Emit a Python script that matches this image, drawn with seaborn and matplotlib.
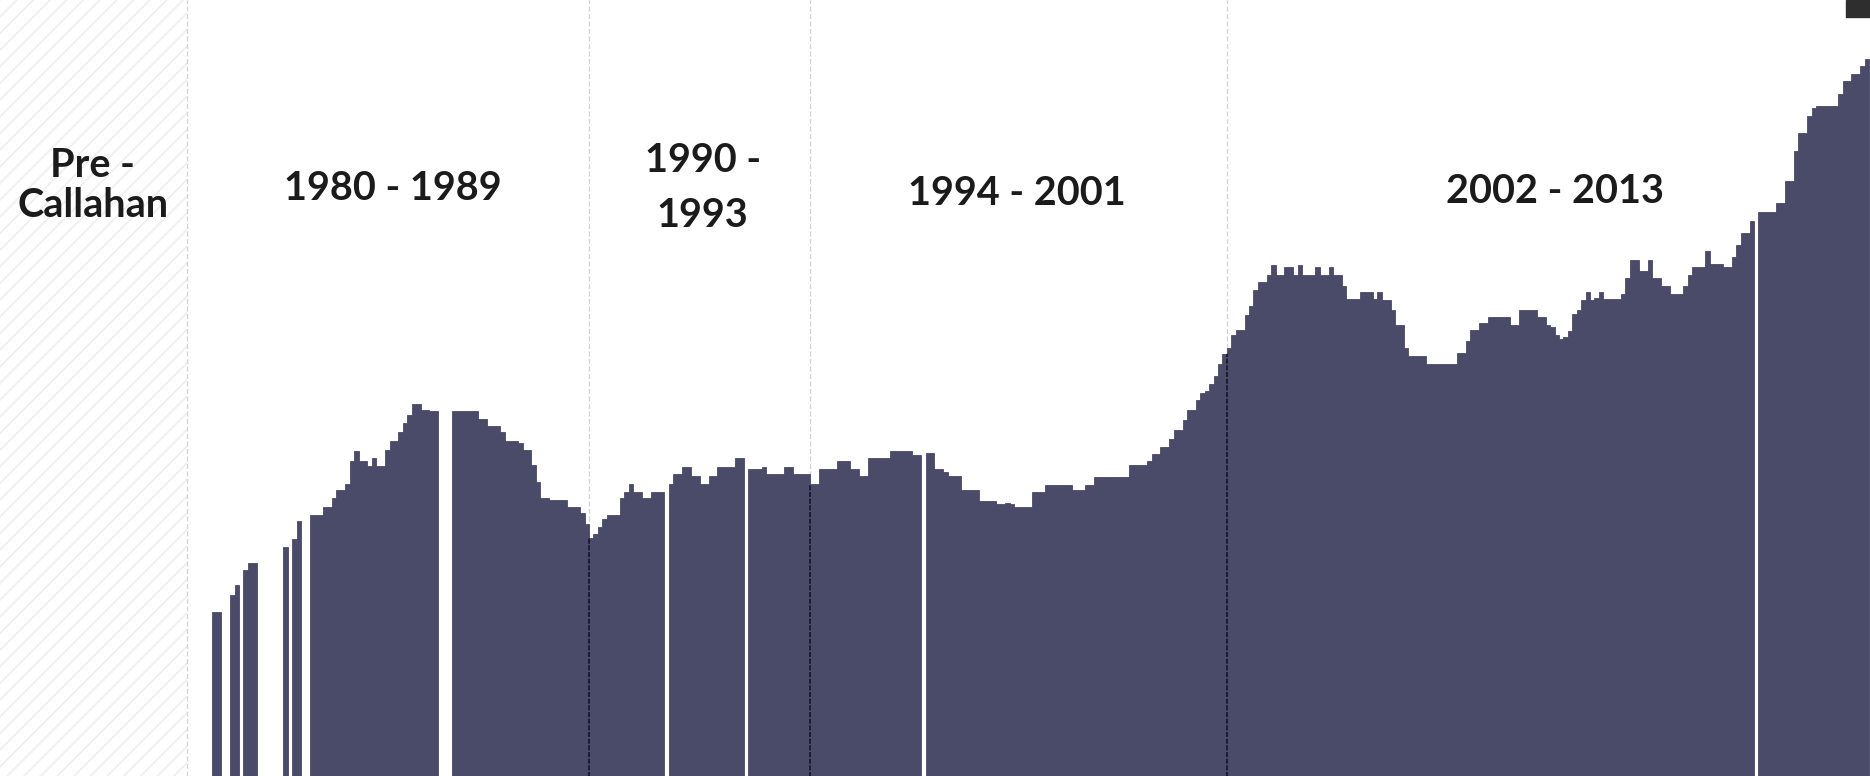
import numpy as np
import pandas as pd
import matplotlib
matplotlib.use('Agg')
import matplotlib.pyplot as plt
import seaborn as sns
from matplotlib.patches import Rectangle
from matplotlib.transforms import blended_transform_factory

nan = np.nan

# Monthly shelter census (thousands). Month index 0 = Jan 1990, gaps = missing months
koch_start = -85
koch = [12.5, 12.5, nan, nan, 13.7, 14.5, nan, 15.6, 16.1, 16.1,
        nan, nan, nan, nan, nan, nan, 17.3, nan, 17.9, 19.2,
        nan, nan, 19.7, 19.7, 19.7, 20.3, 20.3, 20.9, 21.5, 21.5,
        22.0, 23.7, 24.4, 23.7, 23.7, 23.3, 23.9, 23.3, 23.3, 24.5,
        25.2, 25.2, 25.8, 26.5, 27.1, 27.9, 27.9, 27.5, 27.5, 27.4,
        27.4, nan, nan, nan, 27.4, 27.4, 27.4, 27.4, 27.4, 27.4,
        26.8, 26.8, 26.3, 26.3, 26.3, 25.8, 25.2, 25.2, 25.2, 25.0,
        24.5, 24.5, 23.4, 22.1, 20.9, 20.9, 20.8, 20.8, 20.8, 20.8,
        20.3, 20.3, 20.3, 19.8, 19.0]

dinkins_start = 0
dinkins = [18.0, 18.3, 18.8, 19.4, 19.7, 19.7, 19.7, 20.9, 21.4, 22.0,
           21.4, 21.4, 20.9, 20.9, 21.4, 21.4, 21.4, nan, 22.0, 22.7,
           22.7, 23.2, 23.2, 22.6, 22.6, 22.0, 22.0, 22.6, 22.6, 23.2,
           23.2, 23.2, 23.2, 23.9, 23.9, nan, 23.1, 23.1, 23.1, 23.2,
           22.7, 22.7, 22.7, 22.7, 23.2, 23.2, 22.7, 22.7, 22.7, 22.7]

giuliani_start = 50
giuliani = [22.0, 22.0, 23.1, 23.1, 23.1, 23.1, 23.7, 23.7, 23.7, 23.1,
            23.1, 22.6, 22.6, 23.9, 23.9, 23.9, 23.9, 23.9, 24.4, 24.4,
            24.4, 24.4, 24.4, 24.1, 24.1, nan, 24.3, 24.3, 23.1, 23.1,
            22.9, 22.6, 22.6, 22.6, 21.5, 21.5, 21.5, 21.5, 20.7, 20.7,
            20.7, 20.7, 20.5, 20.5, 20.6, 20.5, 20.3, 20.3, 20.3, 20.3,
            21.4, 21.4, 21.4, 21.9, 21.9, 21.9, 21.9, 21.9, 21.9, 21.5,
            21.5, 21.5, 21.9, 21.9, 22.5, 22.5, 22.5, 22.5, 22.5, 22.5,
            22.5, 22.5, 23.4, 23.4, 23.4, 23.4, 23.7, 24.2, 24.2, 24.7,
            24.7, 25.3, 26.0, 26.0, 26.7, 27.5, 27.5, 28.2, 28.7, 28.9,
            29.4, 30.0, 30.9, 31.6]

bloomberg_start = 144
bloomberg = [32.1, 33.0, 33.4, 33.4, 34.5, 35.2, 36.4, 37.0, 37.0, 37.5,
             38.2, 37.5, 37.5, 38.1, 38.1, 37.5, 38.2, 37.5, 37.5, 37.5,
             38.1, 37.5, 37.5, 38.1, 37.5, 37.5, 36.7, 35.7, 35.7, 35.7,
             36.2, 36.2, 36.2, 35.7, 36.2, 35.6, 35.6, 34.9, 33.8, 33.8,
             32.1, 31.5, 31.5, 31.5, 31.5, 30.9, 30.9, 30.9, 30.9, 30.9,
             30.9, 30.9, 31.7, 31.7, 32.6, 33.4, 33.4, 33.9, 33.9, 34.4,
             34.4, 34.4, 34.4, 34.4, 33.8, 33.8, 34.9, 34.9, 34.9, 34.9,
             34.4, 34.4, 33.8, 33.6, 33.0, 32.7, 32.9, 33.3, 34.6, 34.9,
             35.6, 36.2, 35.6, 35.8, 36.2, 35.7, 35.7, 35.7, 35.7, 36.1,
             37.3, 38.6, 38.6, 37.8, 37.8, 38.6, 37.3, 37.3, 36.7, 36.7,
             36.1, 36.1, 36.1, 36.7, 37.5, 38.1, 38.1, 38.1, 39.3, 38.3,
             38.3, 38.3, 38.1, 38.1, 38.8, 39.7, 40.6, 40.6, 41.5, nan,
             42.2, 42.2, 42.2, 42.2, 42.8, 42.8, 44.5, 44.5, 46.7, 48.0,
             48.0, 49.3, 49.9, 50.0, 50.0, 50.0, 50.0, 50.0, 50.9, 51.9,
             51.9, 52.4, 52.4, 53.0, 53.5]

# era boundaries (in month units) and their labels
era_bounds = [-91.25, -0.5, 49.4, 143.5]
era_labels = ['Pre -\nCallahan', '1980 - 1989', '1990 -\n1993', '1994 - 2001', '2002 - 2013']
label_x = [-112.5, -44.7, 25.2, 96.1, 217.6]
label_baselines_px = [[177, 217], [200], [172, 227], [205], [203]]

bar_color = '#4a4a69'
W, H = 1870, 776

segments = [(koch_start, koch), (dinkins_start, dinkins),
            (giuliani_start, giuliani), (bloomberg_start, bloomberg)]
df = pd.concat([pd.DataFrame({'month': np.arange(s, s + len(v)), 'k': v})
                for s, v in segments], ignore_index=True)
series = df.set_index('month')['k']
df = df.dropna()

sns.set_style('white')
plt.rcParams['hatch.linewidth'] = 1.3

fig = plt.figure(figsize=(W / 100, H / 100), dpi=100)
ax = fig.add_axes([0, 0, 1, 1])

xmin, xmax = -133.46, 288.7

# hatched pre-Callahan band
ax.axvspan(xmin, era_bounds[0], facecolor='white', edgecolor='#efefef',
           hatch='//', linewidth=0, zorder=0)

sns.barplot(data=df, x='month', y='k', native_scale=True, width=1.0,
            color=bar_color, saturation=1, errorbar=None,
            linewidth=0.6, edgecolor=bar_color, ax=ax, zorder=2)
ax.set_xlim(xmin, xmax)
ax.set_ylim(0.3, 57.9)

# era divider lines: light over background, dark over bars
for b in era_bounds:
    ax.axvline(b, color='#d2d2d2', lw=0.9, ls=(0, (4, 2)), zorder=1)
    neigh = series.reindex([int(np.floor(b)), int(np.ceil(b))])
    if neigh.notna().any():
        ax.vlines(b, 0, neigh.min(), color='#14142a', lw=1.2,
                  ls=(0, (3, 1)), zorder=3)

trans = blended_transform_factory(ax.transData, ax.transAxes)
for lab, x, bases in zip(era_labels, label_x, label_baselines_px):
    for line, b in zip(lab.split('\n'), bases):
        ax.text(x, 1 - b / H, line, transform=trans, ha='center', va='baseline',
                fontsize=28.5, fontfamily='Lato', fontweight='bold',
                color='#1b1b1b', zorder=4)

ax.set_xlabel('')
ax.set_ylabel('')
ax.set_xticks([])
ax.set_yticks([])
sns.despine(ax=ax, left=True, bottom=True)

# dark tab cut off at top right corner
fig.add_artist(Rectangle((1846 / W, 1 - 17 / H), 24 / W, 17 / H,
                         transform=fig.transFigure, color='#2e2e2e'))

fig.savefig('out.png', dpi=100)
